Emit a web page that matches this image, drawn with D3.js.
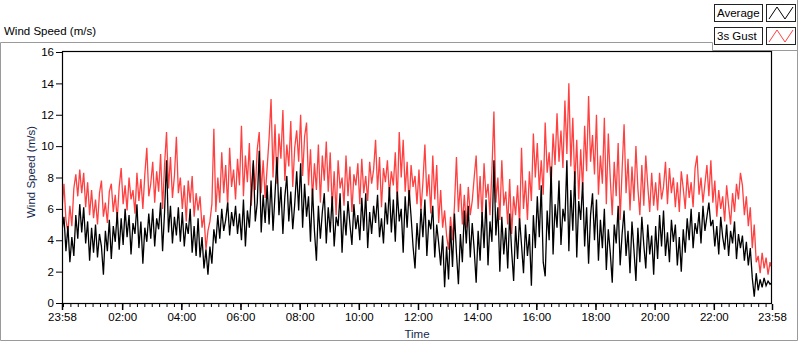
<!DOCTYPE html>
<html><head><meta charset="utf-8">
<script src="https://cdn.jsdelivr.net/npm/d3@7"></script>
<style>
html,body{margin:0;padding:0;background:#fff;}
svg{display:block;font-family:"Liberation Sans",Arial,sans-serif;}
</style></head>
<body><svg id="c" width="800" height="342"></svg>
<script>
// ---- data (4-minute samples from 23:58 to 23:58 next day) ----
const averageSeries = [
4.6,5.5,3.3,4.9,2.6,4.2,3.0,5.6,4.1,6.3,4.5,6.1,3.8,5.2,2.7,
4.8,3.2,5.0,2.9,4.4,3.6,1.8,4.6,3.3,5.3,2.8,4.9,3.9,5.8,3.4,
5.4,3.7,6.0,4.2,5.6,3.1,5.1,4.4,6.3,3.5,5.2,2.5,4.8,3.9,5.7,
4.1,6.0,3.6,5.4,4.7,6.4,3.3,5.8,9.1,4.5,6.2,3.8,5.5,4.3,6.1,
3.9,5.8,3.6,5.1,4.4,6.0,3.2,4.9,3.0,5.4,2.9,4.2,2.2,3.4,1.8,
3.6,2.5,4.7,3.8,5.6,4.1,6.0,4.6,5.3,6.4,4.3,5.8,4.9,6.2,4.4,
5.7,4.0,6.6,3.6,5.9,4.8,7.0,9.1,5.2,6.4,9.7,4.5,6.9,5.1,7.5,
5.0,7.8,4.6,6.9,9.3,5.6,7.4,4.4,6.8,8.1,5.2,7.1,4.7,6.3,8.4,
5.9,8.9,4.8,7.6,5.5,6.8,3.9,7.3,4.6,2.7,6.2,4.1,5.8,7.0,3.8,
6.1,4.5,6.8,3.6,5.5,4.9,7.0,3.2,5.9,4.3,6.5,5.0,3.7,6.3,4.7,
5.6,4.0,6.7,4.6,7.0,3.5,5.8,4.4,6.2,5.1,6.9,4.2,5.4,3.8,6.4,
5.0,7.4,4.5,6.6,3.9,7.1,5.2,6.0,3.2,6.8,4.8,7.2,5.5,3.6,2.2,
5.1,3.4,6.0,4.2,6.6,3.0,5.3,4.7,6.2,2.9,5.0,3.8,2.4,4.3,1.0,
3.6,1.5,4.9,2.3,5.7,3.2,1.2,4.4,2.6,5.9,3.8,6.2,2.9,5.1,3.4,
1.3,4.6,2.7,5.8,3.5,6.6,2.4,5.2,3.9,9.1,4.3,6.1,2.0,5.5,3.1,
4.8,2.2,5.7,3.3,1.4,4.9,2.8,5.4,3.7,1.9,5.0,3.0,4.4,1.1,5.6,
3.5,6.8,4.2,7.5,2.6,1.7,5.9,4.0,8.7,3.1,6.3,4.8,7.8,3.7,6.0,
5.2,9.1,3.3,7.2,4.6,8.4,2.9,6.5,5.3,7.7,3.6,6.1,2.5,5.6,7.0,
4.0,6.6,2.7,5.3,3.5,6.0,2.1,4.7,3.2,1.3,5.0,3.8,6.2,2.4,4.4,
5.9,3.0,4.6,1.9,5.2,3.4,1.4,4.8,2.6,5.5,3.7,2.2,5.0,3.1,4.3,
1.8,4.9,2.8,5.6,3.6,5.9,3.0,4.5,2.6,5.3,3.9,5.0,2.4,4.2,2.0,
4.7,3.2,5.4,4.0,6.0,3.5,5.1,4.4,5.8,3.8,6.2,4.6,5.5,6.4,4.9,
5.3,3.6,4.9,3.1,5.5,4.2,3.4,5.0,3.0,4.6,3.8,5.2,2.8,4.4,3.5,
4.3,2.7,3.9,2.4,3.5,1.6,0.4,1.9,0.8,1.5,1.0,1.6,1.1,1.4,1.2,
1.3];
const gustSeries = [
6.0,7.6,5.3,4.5,6.2,4.9,7.3,8.2,6.8,8.5,7.0,8.3,6.1,7.7,5.6,
7.2,5.4,6.6,5.0,7.0,7.8,5.5,6.4,5.1,7.1,7.6,5.8,6.9,5.3,7.4,
8.6,6.3,7.5,5.9,8.0,6.6,7.2,5.7,8.3,6.5,7.9,6.0,8.2,9.9,6.8,
7.6,9.0,6.4,8.4,7.1,9.5,6.0,8.8,10.9,7.3,9.3,6.7,8.1,10.6,7.0,
8.0,6.0,7.5,5.2,7.8,6.4,8.1,5.5,7.0,5.9,6.8,4.8,5.6,3.4,4.6,
5.2,6.3,11.1,5.8,8.0,6.4,9.6,7.0,8.8,6.2,9.9,7.4,8.5,6.6,9.2,
7.5,11.3,6.8,9.4,7.7,10.2,6.2,8.9,7.2,9.8,10.9,7.0,9.1,6.7,8.6,
10.5,13.0,8.0,11.4,7.6,10.8,9.2,12.3,7.8,10.1,8.7,11.6,7.4,9.9,11.0,
9.0,12.0,8.1,10.6,11.5,7.5,9.8,6.6,8.9,7.2,10.1,6.4,9.4,7.8,10.3,
7.1,9.6,6.0,8.4,5.6,9.1,7.3,8.0,6.2,9.4,6.8,8.7,5.8,8.2,7.5,
8.9,6.3,9.2,7.0,8.1,6.5,9.0,7.6,8.5,10.4,7.2,9.3,6.1,8.6,7.7,
9.1,6.9,8.4,7.5,9.6,6.4,10.9,8.0,10.4,7.1,9.0,6.2,8.8,7.4,8.1,
6.3,8.5,5.9,7.7,10.1,6.8,8.2,5.7,9.4,6.6,8.8,5.1,7.2,4.8,5.9,
4.3,3.4,5.5,4.0,6.2,9.3,5.8,7.6,5.0,6.9,4.8,7.4,5.6,6.5,8.0,
9.4,6.0,8.1,5.4,8.9,6.7,7.6,5.6,8.5,12.2,6.4,8.0,5.3,9.1,6.2,
7.1,5.0,7.9,4.4,6.8,5.6,7.5,4.9,9.9,6.0,7.8,5.3,8.4,6.5,10.8,
8.0,10.2,7.2,9.1,6.9,11.5,8.3,9.6,7.4,10.8,8.8,12.1,9.0,11.0,8.6,
12.9,9.5,14.0,8.7,11.8,7.6,10.4,6.6,9.8,7.2,11.3,8.4,13.2,9.0,10.7,
8.2,12.0,6.9,9.4,7.6,11.8,6.3,10.8,7.9,5.6,9.0,6.8,10.2,5.3,8.5,
11.4,7.0,9.2,5.9,8.7,6.5,10.0,7.3,5.6,8.8,6.2,9.4,7.5,5.8,8.3,
6.2,7.7,5.9,8.3,6.6,7.4,9.0,6.3,8.6,7.0,8.0,6.1,7.7,5.8,8.4,
7.3,6.0,8.2,6.7,7.7,6.1,8.6,9.4,6.9,8.0,6.4,7.6,8.8,6.8,9.1,
6.4,7.8,5.5,7.2,6.0,6.8,5.2,7.5,6.2,5.0,7.0,5.8,7.6,6.6,8.3,
7.5,5.6,6.8,4.9,6.1,3.5,5.0,2.6,3.0,1.9,3.2,2.2,2.9,1.8,2.6,
2.2];
const seriesNames = ["Average","3s Gust"];
const yTicks = [0,2,4,6,8,10,12,14,16];
const xTickLabels = ["23:58","02:00","04:00","06:00","08:00","10:00","12:00","14:00","16:00","18:00","20:00","22:00","23:58"];
const stepMinutes = 4;

// ---- layout ----
const svg = d3.select("#c");
const L = 62, R = 772, T = 52, B = 303;
const start = new Date(2024,0,1,23,58), end = new Date(2024,0,2,23,58);
const x = d3.scaleTime().domain([start,end]).range([L,R]);
const y = d3.scaleLinear().domain([0,16]).range([B,T]);
const times = averageSeries.map((_,i)=>new Date(+start + i*stepMinutes*60000));
const tickDates = xTickLabels.map((l,i)=> i===0 ? start : (i===xTickLabels.length-1 ? end :
   new Date(2024,0,2,+l.slice(0,2),+l.slice(3))));

// outer frame
svg.append("path").attr("d","M0.5,42.5H712.5V50.5H797.5M0.5,42.5V340.5H797.5V0")
  .attr("fill","none").attr("stroke","#9a9a9a");
svg.append("text").attr("x",4).attr("y",35).attr("font-size","11.5px").attr("fill","#000").text("Wind Speed (m/s)");

// legend
const legColors = ["#000","#ff4040"];
seriesNames.forEach((n,i)=>{
  const y0 = 4 + i*23;
  svg.append("rect").attr("x",714.5).attr("y",y0+0.5).attr("width",48).attr("height",17)
    .attr("fill","#fff").attr("stroke","#222");
  svg.append("text").attr("x",717).attr("y",y0+13).attr("font-size","11.5px").text(n);
  svg.append("rect").attr("x",766.5).attr("y",y0+0.5).attr("width",29).attr("height",17)
    .attr("fill","#fff").attr("stroke","#222");
  svg.append("path").attr("d",`M769,${y0+15}L777,${y0+3}L785,${y0+15}L793,${y0+3}`)
    .attr("fill","none").attr("stroke",legColors[i]).attr("stroke-width",1);
});

// axes
const fmt = (d,i)=>xTickLabels[i];
const xMinor = svg.append("g").attr("transform",`translate(0,${B+1})`)
  .call(d3.axisBottom(x).ticks(d3.timeMinute.every(15)).tickFormat("").tickSize(3));
xMinor.select(".domain").remove();
const xMajor = svg.append("g").attr("transform",`translate(0,${B+1})`)
  .call(d3.axisBottom(x).tickValues(tickDates).tickFormat(fmt).tickSize(6).tickPadding(3));
xMajor.select(".domain").remove();
xMajor.selectAll("line").attr("stroke-width",1.5);
xMajor.selectAll("text").attr("font-size","11.5px").attr("font-family","Liberation Sans, Arial, sans-serif").attr("fill","#000");

const yAx = svg.append("g").attr("transform",`translate(${L},0)`)
  .call(d3.axisLeft(y).tickValues(yTicks).tickSize(6).tickPadding(2));
yAx.select(".domain").remove();
yAx.selectAll("text").attr("font-size","11.5px").attr("font-family","Liberation Sans, Arial, sans-serif").attr("fill","#000");

svg.append("text").attr("transform",`translate(35,172) rotate(-90)`).attr("text-anchor","middle")
  .attr("font-size","11.5px").attr("fill","#14284b").text("Wind Speed (m/s)");
svg.append("text").attr("x",(L+R)/2).attr("y",338).attr("text-anchor","middle")
  .attr("font-size","11.5px").attr("fill","#14284b").text("Time");

// plot
svg.append("clipPath").attr("id","pc").append("rect").attr("x",L).attr("y",T).attr("width",R-L).attr("height",B-T);
const line = d3.line().x((d,i)=>x(times[i])).y(d=>y(d));
const g = svg.append("g").attr("clip-path","url(#pc)");
g.append("path").datum(gustSeries).attr("d",line).attr("fill","none").attr("stroke","#ff4040").attr("stroke-width",1.3);
g.append("path").datum(averageSeries).attr("d",line).attr("fill","none").attr("stroke","#000").attr("stroke-width",1.3);

svg.append("rect").attr("x",L+0.5).attr("y",T-0.5).attr("width",R-L-1).attr("height",B-T+1)
  .attr("fill","none").attr("stroke","#000").attr("stroke-width",1.2);
</script></body></html>
